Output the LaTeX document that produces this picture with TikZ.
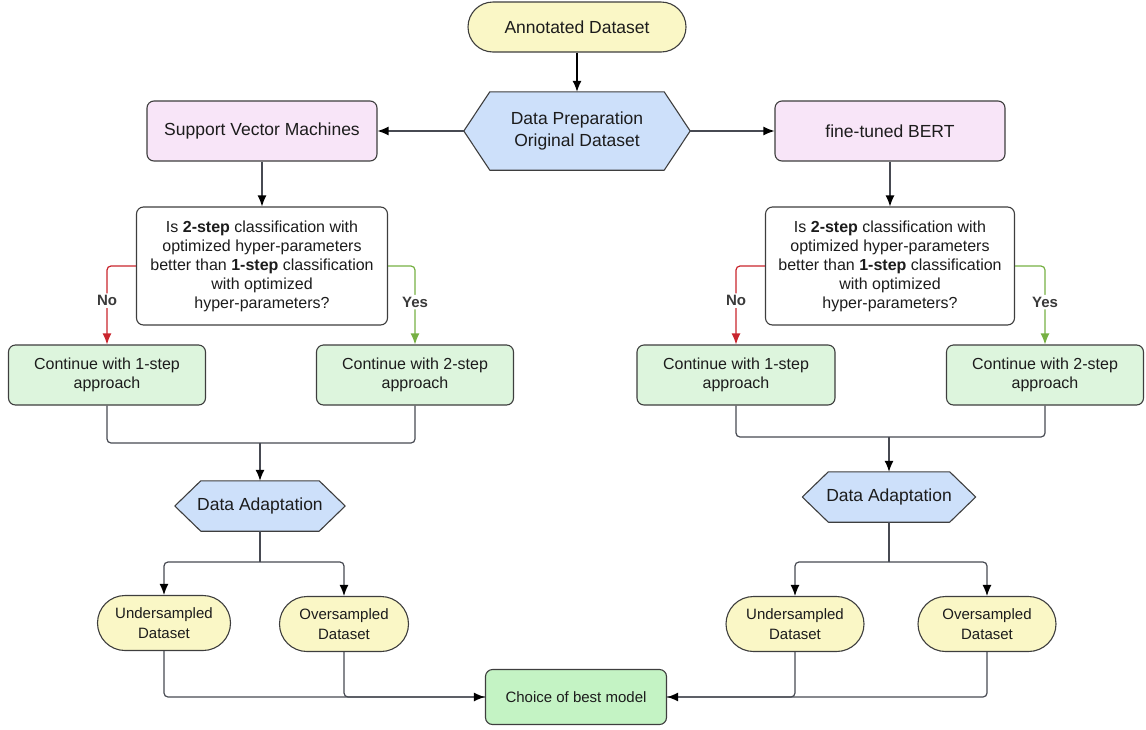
\documentclass[tikz,border=0pt]{standalone}
\usepackage{fontspec}
\setmainfont{Liberation Sans}
\usetikzlibrary{arrows.meta,shapes.misc,backgrounds}
\definecolor{bordc}{HTML}{3E3E3E}
\definecolor{linec}{HTML}{474A52}
\definecolor{txtc}{HTML}{1C1C1C}
\definecolor{yel}{HTML}{FAF7C6}
\definecolor{hexc}{HTML}{CDE0FA}
\definecolor{pink}{HTML}{F8E5F8}
\definecolor{grn}{HTML}{DDF5DD}
\definecolor{grn2}{HTML}{C4F3C4}
\definecolor{redc}{HTML}{C9252D}
\definecolor{grnl}{HTML}{76B043}
\definecolor{lblc}{HTML}{3A3A3A}
\newcommand{\hexbg}[2]{\begin{scope}[on background layer]\draw[hexbox] (#1.west) -- ([xshift=#2pt]#1.north west) -- ([xshift=-#2pt]#1.north east) -- (#1.east) -- ([xshift=-#2pt]#1.south east) -- ([xshift=#2pt]#1.south west) -- cycle;\end{scope}}
\begin{document}
\begin{tikzpicture}[x=1pt,y=-1pt,
  box/.style={draw=bordc, line width=1.1pt, rounded corners=7pt, text=txtc, align=center, inner sep=0pt},
  stad/.style={draw=bordc, line width=1.1pt, rounded rectangle, fill=yel, text=txtc, align=center, inner sep=0pt},
  hexnode/.style={inner sep=0pt, align=center, text=txtc, font=\fontsize{17.5}{22}\selectfont},
  hexbox/.style={draw=bordc, line width=1.1pt, fill=hexc, line join=round},
  arr/.style={-{Latex[length=11pt,width=9pt,color=black]}, line width=1.2pt, draw=linec, rounded corners=4pt},
  line/.style={line width=1.2pt, draw=linec, rounded corners=4pt},
  lbl/.style={fill=white, font=\bfseries\fontsize{15}{18}\selectfont, text=lblc, inner sep=2pt},
  qtext/.style={font=\fontsize{16}{19}\selectfont},
  ctext/.style={font=\fontsize{16}{19}\selectfont},
  stext/.style={font=\fontsize{15}{20}\selectfont}
]
\useasboundingbox (0,0) rectangle (1146,729);

% top
\node[stad, minimum width=218pt, minimum height=50pt, font=\fontsize{17.5}{21}\selectfont] (ann) at (577,27) {Annotated Dataset};
\node[hexnode, minimum width=226pt, minimum height=78pt] (prep) at (577,131) {Data Preparation\\Original Dataset};
\hexbg{prep}{26}
\node[box, fill=pink, minimum width=230pt, minimum height=60pt, font=\fontsize{17.5}{21}\selectfont] (svm) at (262,131) {Support Vector Machines};
\node[box, fill=pink, minimum width=230pt, minimum height=60pt, font=\fontsize{17.5}{21}\selectfont] (bert) at (890,131) {fine-tuned BERT};

% decisions
\node[box, fill=white, minimum width=251pt, minimum height=118pt, qtext] (q1) at (262,266) {Is \textbf{2-step} classification with\\optimized hyper-parameters\\better than \textbf{1-step} classification\\with optimized\\hyper-parameters?};
\node[box, fill=white, minimum width=249pt, minimum height=118pt, qtext] (q2) at (890,266) {Is \textbf{2-step} classification with\\optimized hyper-parameters\\better than \textbf{1-step} classification\\with optimized\\hyper-parameters?};

% continue boxes
\node[box, fill=grn, minimum width=197pt, minimum height=60pt, ctext] (c11) at (107,375) {Continue with 1-step\\approach};
\node[box, fill=grn, minimum width=197pt, minimum height=60pt, ctext] (c12) at (415,375) {Continue with 2-step\\approach};
\node[box, fill=grn, minimum width=198pt, minimum height=60pt, ctext] (c21) at (736,375) {Continue with 1-step\\approach};
\node[box, fill=grn, minimum width=197pt, minimum height=60pt, ctext] (c22) at (1045,375) {Continue with 2-step\\approach};

% data adaptation
\node[hexnode, minimum width=170pt, minimum height=50pt] (da1) at (260,506) {Data Adaptation};
\hexbg{da1}{26}
\node[hexnode, minimum width=173pt, minimum height=50pt] (da2) at (889,497) {Data Adaptation};
\hexbg{da2}{26}

% datasets
\node[stad, minimum width=133pt, minimum height=55pt, stext] (us1) at (164,623) {Undersampled\\Dataset};
\node[stad, minimum width=129pt, minimum height=55pt, stext] (os1) at (344,624) {Oversampled\\Dataset};
\node[stad, minimum width=138pt, minimum height=55pt, stext] (us2) at (795,624) {Undersampled\\Dataset};
\node[stad, minimum width=138pt, minimum height=55pt, stext] (os2) at (987,624) {Oversampled\\Dataset};

\node[box, fill=grn2, minimum width=181pt, minimum height=55pt, stext] (choice) at (576,697) {Choice of best model};

% connectors
\draw[arr, draw=black] (ann.south) -- (prep.north);
\draw[arr] (prep.west) -- (svm.east);
\draw[arr] (prep.east) -- (bert.west);
\draw[arr] (svm.south) -- (q1.north);
\draw[arr] (bert.south) -- (q2.north);

\draw[arr, draw=redc, -{Latex[length=11pt,width=9pt,color=redc]}] (q1.west) -| (c11.north) node[lbl, pos=0.72] {No};
\draw[arr, draw=grnl, -{Latex[length=11pt,width=9pt,color=grnl]}] (q1.east) -| (c12.north) node[lbl, pos=0.73] {Yes};
\draw[arr, draw=redc, -{Latex[length=11pt,width=9pt,color=redc]}] (q2.west) -| (c21.north) node[lbl, pos=0.72] {No};
\draw[arr, draw=grnl, -{Latex[length=11pt,width=9pt,color=grnl]}] (q2.east) -| (c22.north) node[lbl, pos=0.73] {Yes};

\coordinate (m1) at (260,443);
\draw[line] (c11.south) |- (m1) -| (c12.south);
\draw[arr] (m1) -- (da1.north);
\coordinate (m2) at (889,437);
\draw[line] (c21.south) |- (m2) -| (c22.south);
\draw[arr] (m2) -- (da2.north);

\coordinate (s1) at (260,562);
\draw[line] (da1.south) -- (s1);
\draw[arr] (s1) -| (us1.north);
\draw[arr] (s1) -| (os1.north);
\coordinate (s2) at (889,562);
\draw[line] (da2.south) -- (s2);
\draw[arr] (s2) -| (us2.north);
\draw[arr] (s2) -| (os2.north);

\draw[line] (os1.south) |- (choice.west);
\draw[arr] (us1.south) |- (choice.west);
\draw[line] (os2.south) |- (choice.east);
\draw[arr] (us2.south) |- (choice.east);
\end{tikzpicture}
\end{document}
